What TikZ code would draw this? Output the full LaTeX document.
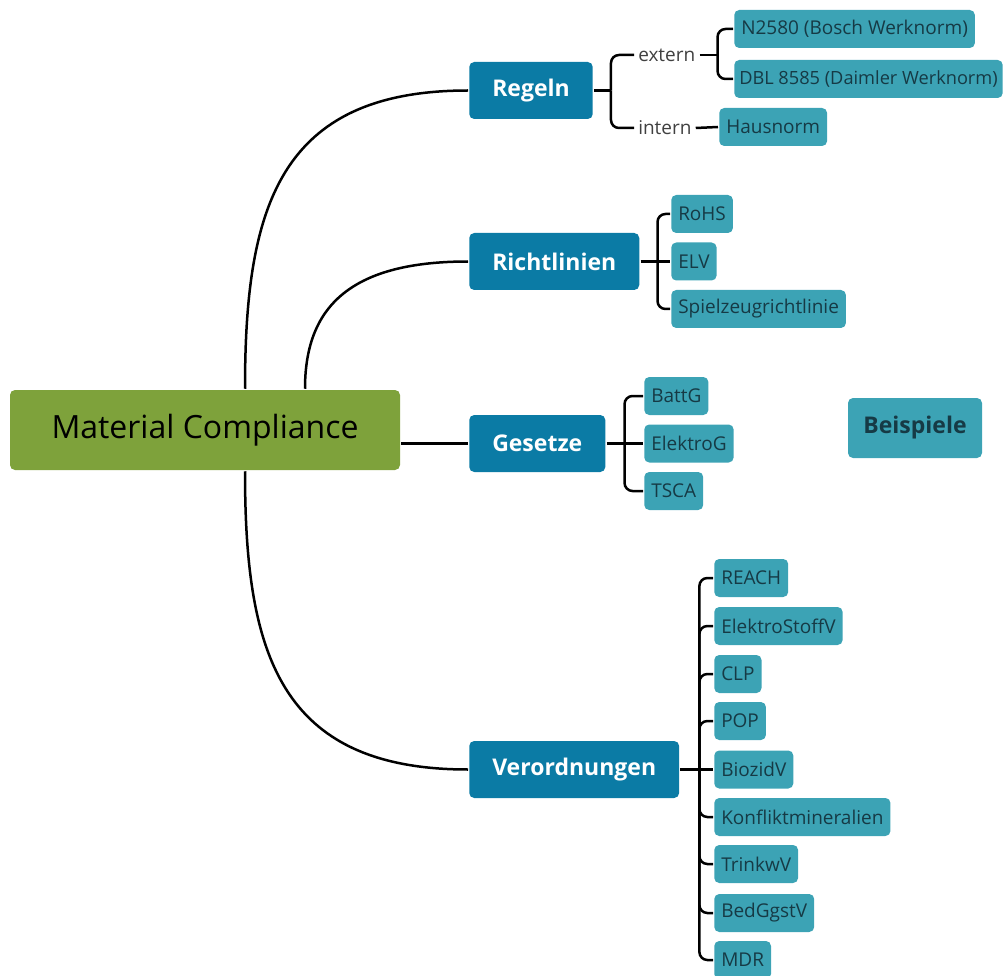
\documentclass[tikz,border=0pt]{standalone}
\usepackage{fontspec}
\setmainfont{Open Sans}
\usetikzlibrary{positioning,calc}
\definecolor{rootgreen}{HTML}{7EA23B}
\definecolor{headblue}{HTML}{0B7BA5}
\definecolor{leafteal}{HTML}{3CA3B5}
\definecolor{leaftext}{HTML}{163A45}
\tikzset{every picture/.style={line width=2.5pt}}

\begin{document}
\begin{tikzpicture}[x=1pt, y=-1pt, font=\fontsize{19}{22}\selectfont,
    rootbox/.style={fill=rootgreen, rounded corners=5pt, text=black, font=\fontsize{32}{36}\selectfont, minimum width=390pt, minimum height=80pt},
    headbox/.style={fill=headblue, rounded corners=5pt, text=white, font=\fontsize{23}{26}\selectfont\bfseries, inner xsep=23pt, minimum height=57pt, anchor=west},
    leafbox/.style={fill=leafteal, rounded corners=5pt, text=leaftext, inner xsep=7pt, minimum height=38pt, anchor=west},
    tag/.style={text=black!75, inner sep=3pt, anchor=west}]
    \useasboundingbox (0,0) rectangle (1007,976);

    % Wurzel und Hauptaeste
    \node[rootbox] (MC) at (205,430) {Material Compliance};
    \node[headbox] (RG) at (468,90.5) {Regeln};
    \node[headbox] (RL) at (468,261.5) {Richtlinien};
    \node[headbox] (GS) at (468,443.5) {Gesetze};
    \node[headbox] (VO) at (468,769.5) {Verordnungen};
    \node[fill=leafteal, rounded corners=5pt, text=leaftext, font=\fontsize{23}{26}\selectfont\bfseries, minimum width=134pt, minimum height=60pt] (BSP) at (915,428) {Beispiele};

    \draw ([xshift=40pt]MC.north) .. controls +(0,-180) and +(-190,0) .. (RG.west);
    \draw ([xshift=100pt]MC.north) .. controls +(0,-80) and +(-120,0) .. (RL.west);
    \draw (MC.east |- GS.west) -- (GS.west);
    \draw ([xshift=40pt]MC.south) .. controls +(0,180) and +(-190,0) .. (VO.west);

    % Regeln
    \node[tag] (EXT) at (634,55) {extern};
    \node[tag] (INT) at (634,128) {intern};
    \node[leafbox] (BOSCH) at (733,29) {N2580 (Bosch Werknorm)};
    \node[leafbox, inner xsep=5pt, font=\fontsize{18.2}{22}\selectfont] (DAIM) at (733,79) {DBL 8585 (Daimler Werknorm)};
    \node[leafbox] (HAUS) at (718,127) {Hausnorm};

    \draw (RG.east) -- ++(17,0) coordinate (rgj);
    \draw[rounded corners=8pt] (rgj) |- (EXT.west);
    \draw[rounded corners=8pt] (rgj) |- (INT.west);
    \draw (EXT.east) -- ++(18,0) coordinate (exj);
    \draw[rounded corners=8pt] (exj) |- (BOSCH.west);
    \draw[rounded corners=8pt] (exj) |- (DAIM.west);
    \draw (INT.east) -- (HAUS.west);

    % Richtlinien
    \node[leafbox] (ROHS) at (670,214) {RoHS};
    \node[leafbox] (ELV) at (670,261.5) {ELV};
    \node[leafbox] (SPZ) at (670,309) {Spielzeugrichtlinie};

    \draw (RL.east) -- ++(17,0) coordinate (rlj);
    \draw[rounded corners=8pt] (rlj) |- (ROHS.west);
    \draw (rlj) -- (ELV.west);
    \draw[rounded corners=8pt] (rlj) |- (SPZ.west);

    % Gesetze
    \node[leafbox] (BATT) at (643,396) {BattG};
    \node[leafbox] (ELG) at (643,443.5) {ElektroG};
    \node[leafbox] (TSCA) at (643,491) {TSCA};

    \draw (GS.east) -- ++(18,0) coordinate (gsj);
    \draw[rounded corners=8pt] (gsj) |- (BATT.west);
    \draw (gsj) -- (ELG.west);
    \draw[rounded corners=8pt] (gsj) |- (TSCA.west);

    % Verordnungen
    \node[leafbox] (REACH) at (713,578) {REACH};
    \node[leafbox] (ESV) at (713,626) {ElektroStoffV};
    \node[leafbox] (CLP) at (713,674) {CLP};
    \node[leafbox] (POP) at (713,721) {POP};
    \node[leafbox] (BIO) at (713,769.5) {BiozidV};
    \node[leafbox] (KONF) at (713,817) {Konfliktmineralien};
    \node[leafbox] (TRW) at (713,864) {TrinkwV};
    \node[leafbox] (BGG) at (713,913) {BedGgstV};
    \node[leafbox] (MDR) at (713,960) {MDR};

    \draw (VO.east) -- ++(19,0) coordinate (voj);
    \draw[rounded corners=8pt] (voj) |- (REACH.west);
    \draw[rounded corners=8pt] (voj) |- (ESV.west);
    \draw[rounded corners=8pt] (voj) |- (CLP.west);
    \draw[rounded corners=8pt] (voj) |- (POP.west);
    \draw (voj) -- (BIO.west);
    \draw[rounded corners=8pt] (voj) |- (KONF.west);
    \draw[rounded corners=8pt] (voj) |- (TRW.west);
    \draw[rounded corners=8pt] (voj) |- (BGG.west);
    \draw[rounded corners=8pt] (voj) |- (MDR.west);
\end{tikzpicture}
\end{document}
